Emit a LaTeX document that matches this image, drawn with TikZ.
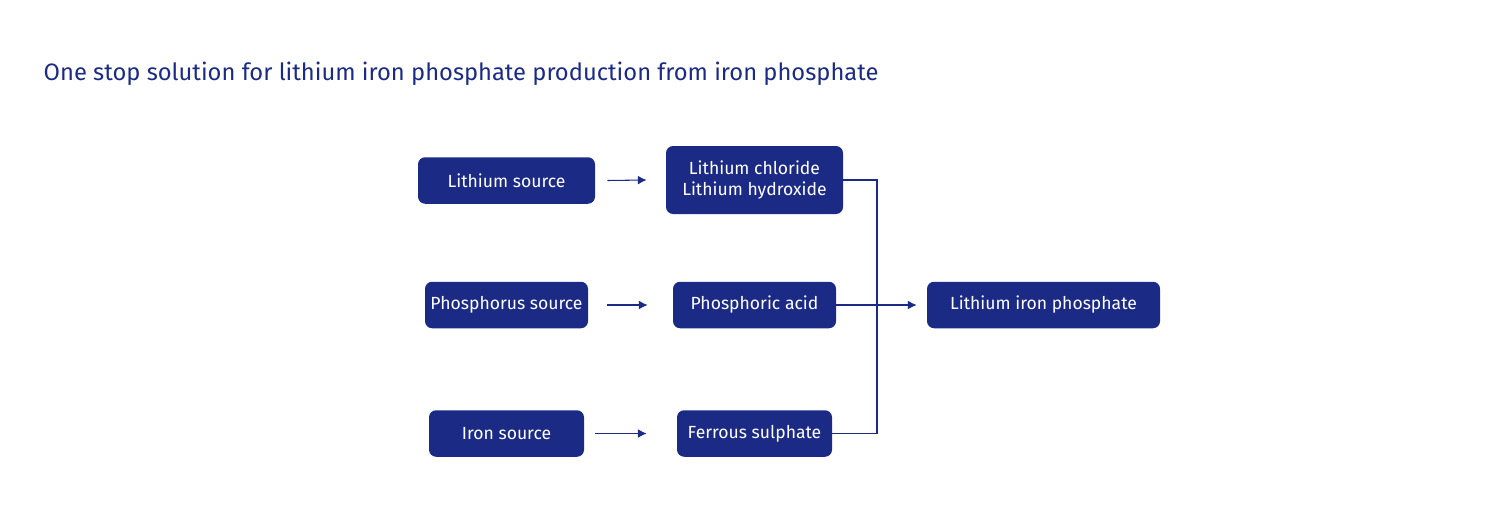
\documentclass[tikz,border=0pt]{standalone}
\usepackage{fontspec}
\setmainfont{Fira Sans}
\usetikzlibrary{arrows.meta}
\definecolor{navy}{HTML}{1B2A84}
\tikzset{
  box/.style={fill=navy, rounded corners=4pt, text=white, font=\fontsize{10}{12}\selectfont, align=center, minimum height=0.93cm, inner sep=2pt},
  flow/.style={navy, semithick, -{Latex[length=5pt,width=5pt]}},
  link/.style={navy, semithick}
}
\begin{document}
\begin{tikzpicture}
\useasboundingbox (0,0) rectangle (29.7,-10.1);

\node[anchor=west, text=navy, font=\fontsize{13.5}{16}\selectfont] (title) at (0.75,-1.48) {One stop solution for lithium iron phosphate production from iron phosphate};

\node[box, minimum width=3.54cm] (lisrc) at (10.13,-3.61) {Lithium source};
\node[box, minimum width=3.54cm, minimum height=1.36cm] (licl) at (15.09,-3.6) {Lithium chloride\\Lithium hydroxide};
\node[box, minimum width=3.26cm] (psrc) at (10.13,-6.1) {Phosphorus source};
\node[box, minimum width=3.26cm] (pacid) at (15.09,-6.1) {Phosphoric acid};
\node[box, minimum width=3.1cm] (fesrc) at (10.13,-8.67) {Iron source};
\node[box, minimum width=3.1cm] (feso) at (15.09,-8.67) {Ferrous sulphate};
\node[box, minimum width=4.66cm] (lfp) at (20.87,-6.1) {Lithium iron phosphate};

% source -> intermediate
\draw[flow] ([xshift=0.24cm]lisrc.east) -- ([xshift=-0.38cm]licl.west);
\draw[flow] ([xshift=0.38cm]psrc.east) -- ([xshift=-0.5cm]pacid.west);
\draw[flow] ([xshift=0.22cm]fesrc.east) -- ([xshift=-0.6cm]feso.west);

% intermediates -> product
\coordinate (bus) at (17.54,0);
\draw[link] (licl.east) -- (licl.east -| bus) -- (feso.east -| bus) -- (feso.east);
\draw[flow] (pacid.east) -- ([xshift=-0.2cm]lfp.west);
\end{tikzpicture}
\end{document}
